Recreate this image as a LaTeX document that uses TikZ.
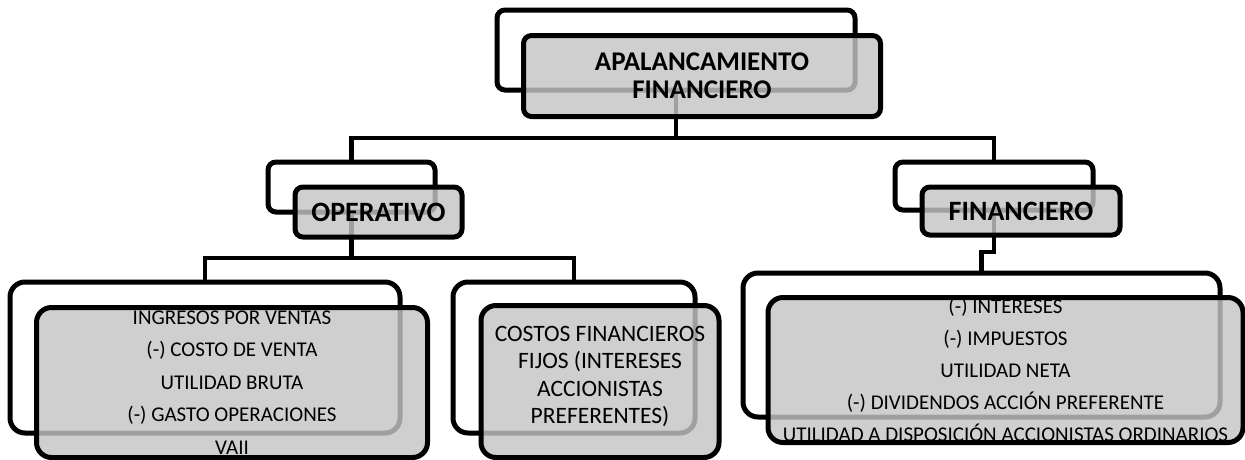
\documentclass[tikz,border=0pt]{standalone}
\usepackage{fontspec}
\setmainfont{Carlito}
\usepackage{tikz}
\usetikzlibrary{positioning}
\definecolor{boxgray}{RGB}{196,196,196}

\begin{document}
\begin{tikzpicture}[x=1pt,y=-1pt,
    back/.style={draw,line width=5pt,rounded corners=8pt,inner sep=0pt},
    front/.style={back,fill=boxgray,fill opacity=0.82},
    big/.style={rounded corners=15pt},
    conn/.style={line width=4.5pt},
    titulo/.style={font=\fontsize{27}{28}\selectfont\bfseries,align=center,inner sep=0pt},
    lista/.style={font=\fontsize{21}{32.5}\selectfont,align=center,inner sep=0pt}]
  \useasboundingbox (0,0) rectangle (1245,459);

  \node[back,minimum width=358pt,minimum height=80pt] (apal) at (676,50) {};
  \node[back,minimum width=167pt,minimum height=50pt] (oper) at (351.5,187) {};
  \node[back,minimum width=198pt,minimum height=48pt] (fin) at (994,186) {};
  \node[back,big,minimum width=390pt,minimum height=151pt] (ingr) at (205,357.5) {};
  \node[back,big,minimum width=242pt,minimum height=151pt] (cost) at (574,357.5) {};
  \node[back,big,minimum width=477pt,minimum height=144pt] (util) at (981.5,345) {};

  \coordinate (bar1) at (0,138);
  \coordinate (bar2) at (0,258);
  \coordinate (bar3) at (0,252);
  \draw[conn] (apal.south) -- (apal.south |- bar1);
  \draw[conn] (oper.north) -- (oper.north |- bar1) -- (fin.north |- bar1) -- (fin.north);
  \draw[conn] (oper.south) -- (oper.south |- bar2);
  \draw[conn] (ingr.north) -- (ingr.north |- bar2) -- (cost.north |- bar2) -- (cost.north);
  \draw[conn] (fin.south) -- (fin.south |- bar3) -| (util.north);

  \node[front,minimum width=357pt,minimum height=81pt] (apalF) at ([shift={(26,26)}]apal) {};
  \node[front,minimum width=167pt,minimum height=50pt] (operF) at ([shift={(27,25)}]oper) {};
  \node[front,minimum width=198pt,minimum height=48pt] (finF) at ([shift={(27,25)}]fin) {};
  \node[front,big,minimum width=391pt,minimum height=150pt] (ingrF) at ([shift={(27,25)}]ingr) {};
  \node[front,big,minimum width=238pt,minimum height=152pt] (costF) at ([shift={(26,24)}]cost) {};
  \node[front,big,minimum width=475pt,minimum height=145pt] (utilF) at ([shift={(24,25)}]util) {};

  \node[titulo] (apalT) at (apalF) {APALANCAMIENTO\\FINANCIERO};
  \node[titulo,font=\fontsize{28}{29}\selectfont\bfseries] (operT) at (operF) {OPERATIVO};
  \node[titulo,font=\fontsize{28}{29}\selectfont\bfseries] (finT) at (finF) {FINANCIERO};
  \node[lista] (ingrT) at (ingrF) {INGRESOS POR VENTAS\\(-) COSTO DE VENTA\\UTILIDAD BRUTA\\(-) GASTO OPERACIONES\\VAII};
  \node[lista,font=\fontsize{23.5}{27.3}\selectfont] (costT) at ([yshift=5pt]costF) {COSTOS FINANCIEROS\\FIJOS (INTERESES\\ACCIONISTAS\\PREFERENTES)};
  \node[lista,font=\fontsize{21}{32}\selectfont] (utilT) at (utilF) {(-) INTERESES\\(-) IMPUESTOS\\UTILIDAD NETA\\(-) DIVIDENDOS ACCIÓN PREFERENTE\\UTILIDAD A DISPOSICIÓN ACCIONISTAS ORDINARIOS};
\end{tikzpicture}
\end{document}
